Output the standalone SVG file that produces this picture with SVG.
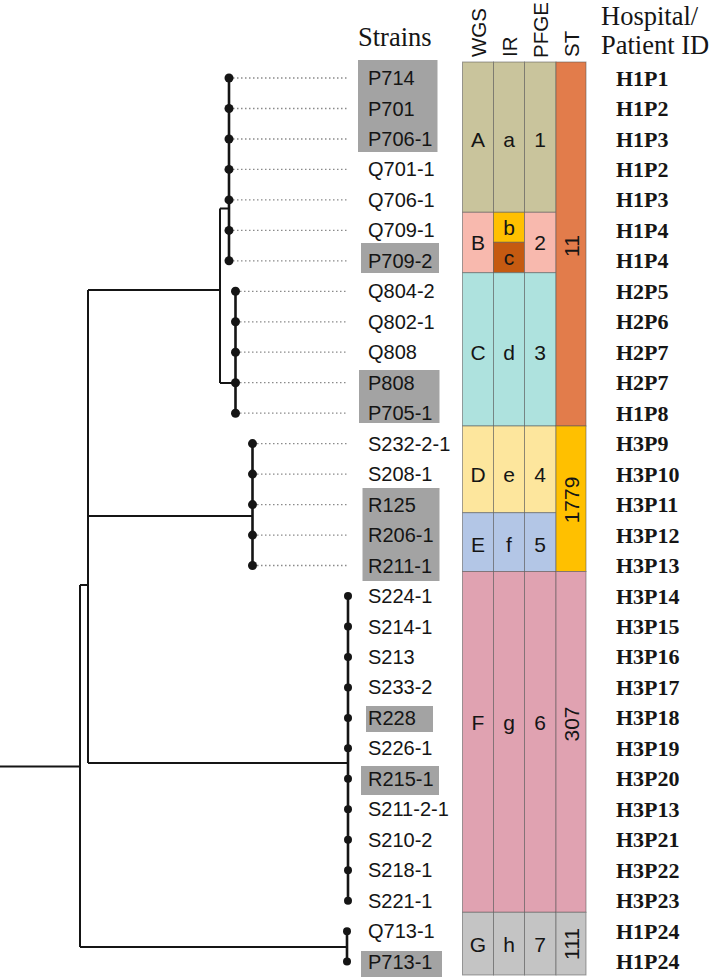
<svg xmlns="http://www.w3.org/2000/svg" width="709" height="977" viewBox="0 0 709 977">
<style>
.lbl{font-family:"Liberation Sans",Arial,sans-serif;font-size:20px;fill:#151515}
.hid{font-family:"Liberation Serif","Times New Roman",serif;font-weight:bold;font-size:22px;fill:#151515}
.hdr{font-family:"Liberation Serif","Times New Roman",serif;font-size:26.5px;fill:#151515}
.rh{font-family:"Liberation Sans",Arial,sans-serif;font-size:20.5px;fill:#151515}
.cl{font-family:"Liberation Sans",Arial,sans-serif;font-size:21px;fill:#151515;text-anchor:middle}
.tree{stroke:#151515;stroke-width:2;fill:none}
.grp{stroke:#151515;stroke-width:2.6;fill:none}
.dot{fill:#151515}
.dash{stroke:#8a8a8a;stroke-width:1.3;stroke-dasharray:1.5 2.5}
.hl{fill:#a3a3a3}
.cell{stroke:#555;stroke-opacity:0.55;stroke-width:1}
</style>

<!-- headers -->
<g id="headers">
<text class="hdr" x="358" y="46">Strains</text>
<text class="hdr" x="601" y="25">Hospital/</text>
<text class="hdr" x="601" y="54">Patient ID</text>
<text class="rh" transform="translate(485.5,57) rotate(-90)">WGS</text>
<text class="rh" transform="translate(517,57) rotate(-90)">IR</text>
<text class="rh" transform="translate(547.5,58) rotate(-90)">PFGE</text>
<text class="rh" transform="translate(579,57) rotate(-90)">ST</text>
</g>

<!-- highlight boxes for strains -->
<g id="highlights">
<rect class="hl" x="358" y="60" width="79.5" height="92"/>
<rect class="hl" x="361" y="243" width="78" height="30"/>
<rect class="hl" x="359" y="370" width="80.5" height="53"/>
<rect class="hl" x="362.5" y="488" width="77" height="93"/>
<rect class="hl" x="366" y="706" width="67" height="26"/>
<rect class="hl" x="361" y="766" width="78" height="29"/>
<rect class="hl" x="361" y="951" width="81" height="26"/>
</g>

<!-- connectors (tree) -->
<g id="connectors">
<path class="tree" d="M0,766.5 H80 M80,585 V947 M80,585 H88 M88,290 V763 M88,290 H220 M220,208.5 V383 M220,208.5 H229 M220,383 H235.5 M88,516 H252.5 M88,763 H348 M80,947 H347"/>
<path class="grp" d="M229,78 V261 M235.5,291 V413 M252.5,443.5 V565.5 M348,596 V900.7 M347,931 V961.6"/>
<g>
<line class="dash" x1="233" y1="78" x2="348" y2="78"/>
<line class="dash" x1="233" y1="108.5" x2="348" y2="108.5"/>
<line class="dash" x1="233" y1="139" x2="348" y2="139"/>
<line class="dash" x1="233" y1="169.4" x2="348" y2="169.4"/>
<line class="dash" x1="233" y1="199.9" x2="348" y2="199.9"/>
<line class="dash" x1="233" y1="230.4" x2="348" y2="230.4"/>
<line class="dash" x1="233" y1="260.8" x2="348" y2="260.8"/>
<line class="dash" x1="240" y1="291.3" x2="348" y2="291.3"/>
<line class="dash" x1="240" y1="321.8" x2="348" y2="321.8"/>
<line class="dash" x1="240" y1="352.2" x2="348" y2="352.2"/>
<line class="dash" x1="240" y1="382.7" x2="348" y2="382.7"/>
<line class="dash" x1="240" y1="413.2" x2="348" y2="413.2"/>
<line class="dash" x1="257" y1="443.6" x2="348" y2="443.6"/>
<line class="dash" x1="257" y1="474.1" x2="348" y2="474.1"/>
<line class="dash" x1="257" y1="504.6" x2="348" y2="504.6"/>
<line class="dash" x1="257" y1="535.1" x2="348" y2="535.1"/>
<line class="dash" x1="257" y1="565.5" x2="348" y2="565.5"/>
</g>
</g>

<!-- leaf nodes -->
<g id="n-P714"><circle class="dot" cx="229" cy="78" r="4.5"/><text class="lbl" x="368" y="85">P714</text><text class="hid" x="616" y="85.5">H1P1</text></g>
<g id="n-P701"><circle class="dot" cx="229" cy="108.5" r="4.5"/><text class="lbl" x="368" y="115.5">P701</text><text class="hid" x="616" y="116">H1P2</text></g>
<g id="n-P706-1"><circle class="dot" cx="229" cy="139" r="4.5"/><text class="lbl" x="368" y="146">P706-1</text><text class="hid" x="616" y="146.5">H1P3</text></g>
<g id="n-Q701-1"><circle class="dot" cx="229" cy="169.4" r="4.5"/><text class="lbl" x="368" y="176.4">Q701-1</text><text class="hid" x="616" y="176.9">H1P2</text></g>
<g id="n-Q706-1"><circle class="dot" cx="229" cy="199.9" r="4.5"/><text class="lbl" x="368" y="206.9">Q706-1</text><text class="hid" x="616" y="207.4">H1P3</text></g>
<g id="n-Q709-1"><circle class="dot" cx="229" cy="230.4" r="4.5"/><text class="lbl" x="368" y="237.4">Q709-1</text><text class="hid" x="616" y="237.9">H1P4</text></g>
<g id="n-P709-2"><circle class="dot" cx="229" cy="260.8" r="4.5"/><text class="lbl" x="368" y="267.8">P709-2</text><text class="hid" x="616" y="268.3">H1P4</text></g>
<g id="n-Q804-2"><circle class="dot" cx="235.5" cy="291.3" r="4.5"/><text class="lbl" x="368" y="298.3">Q804-2</text><text class="hid" x="616" y="298.8">H2P5</text></g>
<g id="n-Q802-1"><circle class="dot" cx="235.5" cy="321.8" r="4.5"/><text class="lbl" x="368" y="328.8">Q802-1</text><text class="hid" x="616" y="329.3">H2P6</text></g>
<g id="n-Q808"><circle class="dot" cx="235.5" cy="352.2" r="4.5"/><text class="lbl" x="368" y="359.2">Q808</text><text class="hid" x="616" y="359.7">H2P7</text></g>
<g id="n-P808"><circle class="dot" cx="235.5" cy="382.7" r="4.5"/><text class="lbl" x="368" y="389.7">P808</text><text class="hid" x="616" y="390.2">H2P7</text></g>
<g id="n-P705-1"><circle class="dot" cx="235.5" cy="413.2" r="4.5"/><text class="lbl" x="368" y="420.2">P705-1</text><text class="hid" x="616" y="420.7">H1P8</text></g>
<g id="n-S232-2-1"><circle class="dot" cx="252.5" cy="443.6" r="4.5"/><text class="lbl" x="368" y="450.6">S232-2-1</text><text class="hid" x="616" y="451.1">H3P9</text></g>
<g id="n-S208-1"><circle class="dot" cx="252.5" cy="474.1" r="4.5"/><text class="lbl" x="368" y="481.1">S208-1</text><text class="hid" x="616" y="481.6">H3P10</text></g>
<g id="n-R125"><circle class="dot" cx="252.5" cy="504.6" r="4.5"/><text class="lbl" x="368" y="511.6">R125</text><text class="hid" x="616" y="512.1">H3P11</text></g>
<g id="n-R206-1"><circle class="dot" cx="252.5" cy="535.1" r="4.5"/><text class="lbl" x="368" y="542.1">R206-1</text><text class="hid" x="616" y="542.6">H3P12</text></g>
<g id="n-R211-1"><circle class="dot" cx="252.5" cy="565.5" r="4.5"/><text class="lbl" x="368" y="572.5">R211-1</text><text class="hid" x="616" y="573">H3P13</text></g>
<g id="n-S224-1"><circle class="dot" cx="348" cy="596" r="4"/><text class="lbl" x="368" y="603">S224-1</text><text class="hid" x="616" y="603.5">H3P14</text></g>
<g id="n-S214-1"><circle class="dot" cx="348" cy="626.5" r="4"/><text class="lbl" x="368" y="633.5">S214-1</text><text class="hid" x="616" y="634">H3P15</text></g>
<g id="n-S213"><circle class="dot" cx="348" cy="656.9" r="4"/><text class="lbl" x="368" y="663.9">S213</text><text class="hid" x="616" y="664.4">H3P16</text></g>
<g id="n-S233-2"><circle class="dot" cx="348" cy="687.4" r="4"/><text class="lbl" x="368" y="694.4">S233-2</text><text class="hid" x="616" y="694.9">H3P17</text></g>
<g id="n-R228"><circle class="dot" cx="348" cy="717.9" r="4"/><text class="lbl" x="368" y="724.9">R228</text><text class="hid" x="616" y="725.4">H3P18</text></g>
<g id="n-S226-1"><circle class="dot" cx="348" cy="748.3" r="4"/><text class="lbl" x="368" y="755.3">S226-1</text><text class="hid" x="616" y="755.8">H3P19</text></g>
<g id="n-R215-1"><circle class="dot" cx="348" cy="778.8" r="4"/><text class="lbl" x="368" y="785.8">R215-1</text><text class="hid" x="616" y="786.3">H3P20</text></g>
<g id="n-S211-2-1"><circle class="dot" cx="348" cy="809.3" r="4"/><text class="lbl" x="368" y="816.3">S211-2-1</text><text class="hid" x="616" y="816.8">H3P13</text></g>
<g id="n-S210-2"><circle class="dot" cx="348" cy="839.8" r="4"/><text class="lbl" x="368" y="846.8">S210-2</text><text class="hid" x="616" y="847.3">H3P21</text></g>
<g id="n-S218-1"><circle class="dot" cx="348" cy="870.2" r="4"/><text class="lbl" x="368" y="877.2">S218-1</text><text class="hid" x="616" y="877.7">H3P22</text></g>
<g id="n-S221-1"><circle class="dot" cx="348" cy="900.7" r="4"/><text class="lbl" x="368" y="907.7">S221-1</text><text class="hid" x="616" y="908.2">H3P23</text></g>
<g id="n-Q713-1"><circle class="dot" cx="347" cy="931.2" r="4"/><text class="lbl" x="368" y="938.2">Q713-1</text><text class="hid" x="616" y="938.7">H1P24</text></g>
<g id="n-P713-1"><circle class="dot" cx="347" cy="961.6" r="4"/><text class="lbl" x="368" y="968.6">P713-1</text><text class="hid" x="616" y="969.1">H1P24</text></g>

<!-- typing table -->
<g id="col-WGS">
<rect class="cell" x="462.5" y="62" width="31" height="150.3" fill="#c9c49c"/>
<rect class="cell" x="462.5" y="212.3" width="31" height="60.4" fill="#f8b9ae"/>
<rect class="cell" x="462.5" y="272.7" width="31" height="153.3" fill="#aee2de"/>
<rect class="cell" x="462.5" y="426" width="31" height="86.7" fill="#fde69d"/>
<rect class="cell" x="462.5" y="512.7" width="31" height="58.8" fill="#b3c6e6"/>
<rect class="cell" x="462.5" y="571.5" width="31" height="340.8" fill="#e0a2b1"/>
<rect class="cell" x="462.5" y="912.3" width="31" height="62.7" fill="#c4c4c4"/>
<text class="cl" x="478" y="146.5">A</text>
<text class="cl" x="478" y="250">B</text>
<text class="cl" x="478" y="359.5">C</text>
<text class="cl" x="478" y="481.5">D</text>
<text class="cl" x="478" y="551.5">E</text>
<text class="cl" x="478" y="729.5">F</text>
<text class="cl" x="478" y="951.5">G</text>
</g>
<g id="col-IR">
<rect class="cell" x="493.5" y="62" width="31" height="150.3" fill="#c9c49c"/>
<rect class="cell" x="493.5" y="212.3" width="31" height="30" fill="#ffc000"/>
<rect class="cell" x="493.5" y="242.3" width="31" height="30.4" fill="#c55a11"/>
<rect class="cell" x="493.5" y="272.7" width="31" height="153.3" fill="#aee2de"/>
<rect class="cell" x="493.5" y="426" width="31" height="86.7" fill="#fde69d"/>
<rect class="cell" x="493.5" y="512.7" width="31" height="58.8" fill="#b3c6e6"/>
<rect class="cell" x="493.5" y="571.5" width="31" height="340.8" fill="#e0a2b1"/>
<rect class="cell" x="493.5" y="912.3" width="31" height="62.7" fill="#c4c4c4"/>
<text class="cl" x="509" y="146.5">a</text>
<text class="cl" x="509" y="234.5">b</text>
<text class="cl" x="509" y="264.5">c</text>
<text class="cl" x="509" y="359.5">d</text>
<text class="cl" x="509" y="481.5">e</text>
<text class="cl" x="509" y="551.5">f</text>
<text class="cl" x="509" y="729.5">g</text>
<text class="cl" x="509" y="951.5">h</text>
</g>
<g id="col-PFGE">
<rect class="cell" x="524.5" y="62" width="31.5" height="150.3" fill="#c9c49c"/>
<rect class="cell" x="524.5" y="212.3" width="31.5" height="60.4" fill="#f8b9ae"/>
<rect class="cell" x="524.5" y="272.7" width="31.5" height="153.3" fill="#aee2de"/>
<rect class="cell" x="524.5" y="426" width="31.5" height="86.7" fill="#fde69d"/>
<rect class="cell" x="524.5" y="512.7" width="31.5" height="58.8" fill="#b3c6e6"/>
<rect class="cell" x="524.5" y="571.5" width="31.5" height="340.8" fill="#e0a2b1"/>
<rect class="cell" x="524.5" y="912.3" width="31.5" height="62.7" fill="#c4c4c4"/>
<text class="cl" x="540" y="146.5">1</text>
<text class="cl" x="540" y="250">2</text>
<text class="cl" x="540" y="359.5">3</text>
<text class="cl" x="540" y="481.5">4</text>
<text class="cl" x="540" y="551.5">5</text>
<text class="cl" x="540" y="729.5">6</text>
<text class="cl" x="540" y="951.5">7</text>
</g>
<g id="col-ST">
<rect class="cell" x="556" y="62" width="30" height="364" fill="#e27c4b"/>
<rect class="cell" x="556" y="426" width="30" height="145.5" fill="#ffc000"/>
<rect class="cell" x="556" y="571.5" width="30" height="340.8" fill="#e0a2b1"/>
<rect class="cell" x="556" y="912.3" width="30" height="62.7" fill="#c4c4c4"/>
<text class="cl" transform="translate(578.5,246) rotate(-90)">11</text>
<text class="cl" transform="translate(578.5,500) rotate(-90)">1779</text>
<text class="cl" transform="translate(578.5,724) rotate(-90)">307</text>
<text class="cl" transform="translate(578.5,944) rotate(-90)">111</text>
</g>
</svg>
